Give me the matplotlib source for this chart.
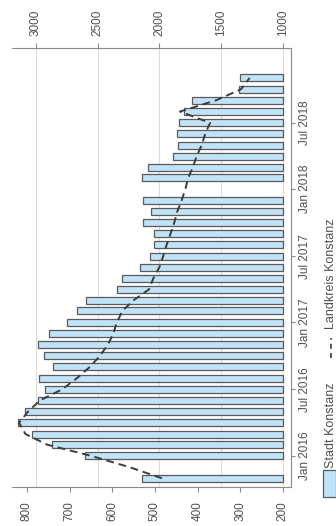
import matplotlib
matplotlib.use("Agg")
import matplotlib.pyplot as plt
import matplotlib.dates as mdates
from matplotlib.patches import Rectangle
from matplotlib.lines import Line2D
import numpy as np
import pandas as pd

plt.rcParams["font.family"] = ["Liberation Sans Narrow", "Liberation Sans", "DejaVu Sans"]

# ── data ──────────────────────────────────────────────────────────────────────
bar_months = ["2015-11", "2016-01", "2016-02", "2016-03", "2016-04", "2016-05",
              "2016-06", "2016-07", "2016-08", "2016-09", "2016-10", "2016-11",
              "2016-12", "2017-01", "2017-02", "2017-03", "2017-04", "2017-05",
              "2017-06", "2017-07", "2017-08", "2017-09", "2017-10", "2017-11",
              "2017-12", "2018-02", "2018-03", "2018-04", "2018-05", "2018-06",
              "2018-07", "2018-08", "2018-09", "2018-10", "2018-11"]
stadt = [531, 664, 742, 788, 820, 805,
         773, 758, 772, 738, 759, 773,
         748, 707, 682, 662, 589, 576,
         535, 512, 502, 502, 527, 510,
         527, 530, 516, 457, 445, 449,
         443, 432, 413, 302, 301]

line_months = ["2015-11", "2015-12", "2016-01", "2016-02", "2016-03", "2016-04",
               "2016-05", "2016-06", "2016-07", "2016-08", "2016-09", "2016-10",
               "2016-11", "2016-12", "2017-01", "2017-02", "2017-03", "2017-04",
               "2017-05", "2017-06", "2017-07", "2017-08", "2017-09", "2017-10",
               "2017-11", "2017-12", "2018-01", "2018-02", "2018-03", "2018-04",
               "2018-05", "2018-06", "2018-07", "2018-08", "2018-09", "2018-10",
               "2018-11"]
landkreis = [1980, 2240, 2550, 2910, 3085, 3137,
             3065, 2968, 2790, 2668, 2563, 2482,
             2417, 2374, 2345, 2300, 2215, 2085,
             2050, 2000, 1970, 1942, 1910, 1880,
             1855, 1820, 1790, 1767, 1730, 1699,
             1658, 1630, 1590, 1834, 1540, 1340,
             1270]

date_ticks = ["2016-01-01", "2016-07-01", "2017-01-01", "2017-07-01", "2018-01-01", "2018-07-01"]
date_labels = ["Jan 2016", "Jul 2016", "Jan 2017", "Jul 2017", "Jan 2018", "Jul 2018"]
stadt_ticks = [200, 300, 400, 500, 600, 700, 800]
kreis_ticks = [1000, 1500, 2000, 2500, 3000]

STADT_LIM = (835, 181)
KREIS_LIM = (3194, 935)
DATE_LIM = ("2015-10-08", "2019-01-22")

AXIS_GREY = "#8a8a8a"
TEXT_GREY = "#505050"
BAR_FILL = "#c0e3f7"
BAR_EDGE = "#5a5a5a"
FS = 8.5


def to_num(items):
    return mdates.date2num(pd.to_datetime(items))


def kreis_to_stadt(v):
    # linear map of right-axis values onto the bar axis (for the grid)
    k0, k1 = KREIS_LIM
    s0, s1 = STADT_LIM
    return s0 + (np.asarray(v) - k0) * (s1 - s0) / (k1 - k0)


fig = plt.figure(figsize=(3.36, 5.26), dpi=100)
ax = fig.add_axes([12 / 336, 39 / 526, 279 / 336, 439 / 526])

# grid from the Landkreis axis, behind the bars
for g in kreis_to_stadt(kreis_ticks):
    ax.axvline(g, color="#dcdcdc", lw=0.8, zorder=0)

ax.barh(to_num(bar_months), np.array(stadt) - 200, left=200, height=19,
        color=BAR_FILL, edgecolor=BAR_EDGE, linewidth=0.9, zorder=2)

ax.set_xlim(*STADT_LIM)
ax.set_ylim(*to_num(list(DATE_LIM)))

ax.set_xticks(stadt_ticks)
ax.set_xticklabels([str(t) for t in stadt_ticks], rotation=90)
ax.set_yticks(to_num(date_ticks))
ax.set_yticklabels(date_labels, rotation=90, va="center")
ax.yaxis.tick_right()
ax.tick_params(axis="x", direction="out", length=3.5, width=0.8, color=AXIS_GREY,
               labelcolor=TEXT_GREY, labelsize=FS, pad=6.5)
ax.tick_params(axis="y", direction="out", length=3, width=0.8, color=AXIS_GREY,
               labelcolor=TEXT_GREY, labelsize=FS, pad=3)
ax.spines[["left", "top"]].set_visible(False)
for s in ["bottom", "right"]:
    ax.spines[s].set_color(AXIS_GREY)
    ax.spines[s].set_linewidth(0.8)

# Landkreis series on the twin (top) axis
ax2 = ax.twiny()
ax2.plot(landkreis, to_num(line_months), color="#3c3c3c", lw=1.4,
         dashes=(4, 2.5), zorder=3)
ax2.set_xlim(*KREIS_LIM)
ax2.set_ylim(*to_num(list(DATE_LIM)))
ax2.set_xticks(kreis_ticks)
ax2.set_xticklabels([str(t) for t in kreis_ticks], rotation=90)
ax2.tick_params(axis="x", direction="out", length=3.5, width=0.8, color=AXIS_GREY,
                labelcolor=TEXT_GREY, labelsize=FS, pad=5)
ax2.spines[["left", "bottom", "right"]].set_visible(False)
ax2.spines["top"].set_color(AXIS_GREY)
ax2.spines["top"].set_linewidth(0.8)

# rotated legend on the right edge
fig.patches.append(Rectangle((323 / 336, 1 - 497 / 526), 13 / 336, 27 / 526,
                             transform=fig.transFigure, facecolor=BAR_FILL,
                             edgecolor=BAR_EDGE, linewidth=0.9))
fig.text(331 / 336, 1 - 425 / 526, "Stadt Konstanz", rotation=90, ha="center",
         va="center", fontsize=9, color=TEXT_GREY)
fig.lines.append(Line2D([331 / 336, 331 / 336], [1 - 358 / 526, 1 - 338 / 526],
                        transform=fig.transFigure, color="#3c3c3c", lw=1.2,
                        dashes=(3, 2.5)))
fig.text(331 / 336, 1 - 274 / 526, "Landkreis Konstanz", rotation=90, ha="center",
         va="center", fontsize=9, color=TEXT_GREY)

plt.savefig("out.png", dpi=100)
plt.close()
